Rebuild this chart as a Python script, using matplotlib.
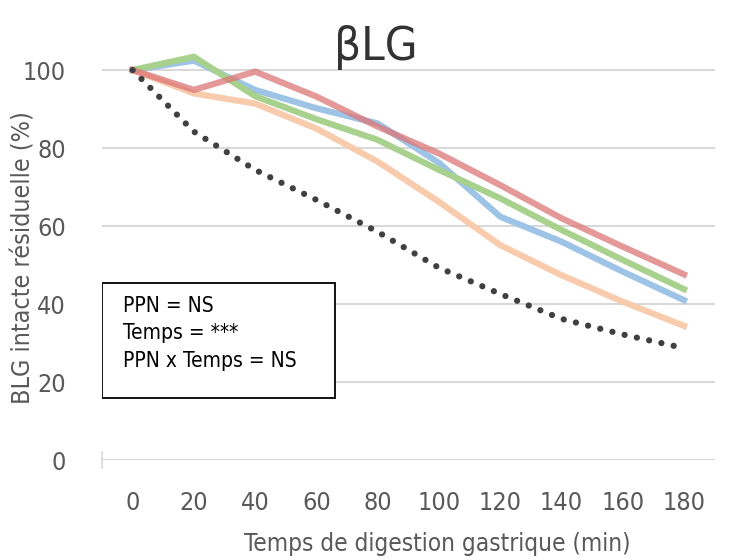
import matplotlib.pyplot as plt
from matplotlib.patches import Rectangle

plt.rcParams['font.family'] = ['DejaVu Sans']
plt.rcParams['font.stretch'] = 'condensed'

# temps de digestion (min)
temps = ["0", "20", "40", "60", "80", "100", "120", "140", "160", "180"]

# BLG intacte résiduelle (%)
bleu = [100, 102.4, 94.9, 90.2, 86.3, 76.2, 62.4, 56.0, 48.3, 41.0]
orange = [100, 94.0, 91.4, 85.0, 76.5, 66.2, 55.1, 47.4, 40.6, 34.4]
vert = [100, 103.4, 93.3, 87.4, 82.1, 74.4, 67.1, 59.0, 51.3, 43.8]
rouge = [100, 94.9, 99.6, 93.2, 85.5, 78.6, 70.5, 62.0, 54.7, 47.6]
modele = [100, 84.2, 74.4, 66.7, 58.5, 49.3, 42.6, 36.2, 32.2, 28.7]

stats = ["PPN = NS", "Temps = ***", "PPN x Temps = NS"]

fig = plt.figure(figsize=(7.3, 5.59), dpi=100)
ax = fig.add_axes([0.1397, 0.177, 0.8393, 0.7675])

x = range(len(temps))
ax.plot(x, bleu, color="#9DC3E6", lw=4.5)
ax.plot(x, orange, color="#F8CBAD", lw=4.5)
ax.plot(x, vert, color="#A9D18E", lw=4.5)
ax.plot(x, rouge, color="#DC7676", lw=4.5, alpha=0.75)
ax.plot(x, modele, color="#404040", lw=4.5, linestyle=(0, (0.01, 2.0)),
        dash_capstyle="round")

ax.set_xlim(-0.5, len(temps) - 0.5)
ax.set_ylim(0, 110)
ax.set_yticks([0, 20, 40, 60, 80, 100])
ax.set_xticks(list(x))
ax.set_xticklabels(temps)
ax.grid(axis="y", color="#D9D9D9", lw=1.5)
ax.set_axisbelow(True)
for s in ["top", "right", "bottom"]:
    ax.spines[s].set_visible(False)
ax.spines["left"].set_color("#D9D9D9")
ax.spines["left"].set_linewidth(1.2)
ax.spines["left"].set_bounds(-2, 2)
ax.tick_params(length=0, labelsize=18, labelcolor="#595959")
ax.tick_params(axis="x", pad=22)
ax.tick_params(axis="y", pad=26)

ax.set_xlabel("Temps de digestion gastrique (min)", fontsize=17.5, color="#595959")
ax.xaxis.set_label_coords(0.5465, -0.168)
ax.set_ylabel("BLG intacte résiduelle (%)", fontsize=18, color="#595959")
ax.yaxis.set_label_coords(-0.108, 0.471)
fig.text(0.515, 0.915, "βLG", fontsize=34, color="#333333", ha="center", va="center")

ax.add_patch(Rectangle((0, 0.1445), 0.38, 0.268, transform=ax.transAxes,
                       fill=True, facecolor="white", edgecolor="black", lw=1.3, zorder=5))
for i, t in enumerate(stats):
    ax.text(0.034, 0.359 - i * 0.064, t, transform=ax.transAxes, fontsize=15,
            color="black", va="center", zorder=6)

fig.savefig("out.png", dpi=100)
